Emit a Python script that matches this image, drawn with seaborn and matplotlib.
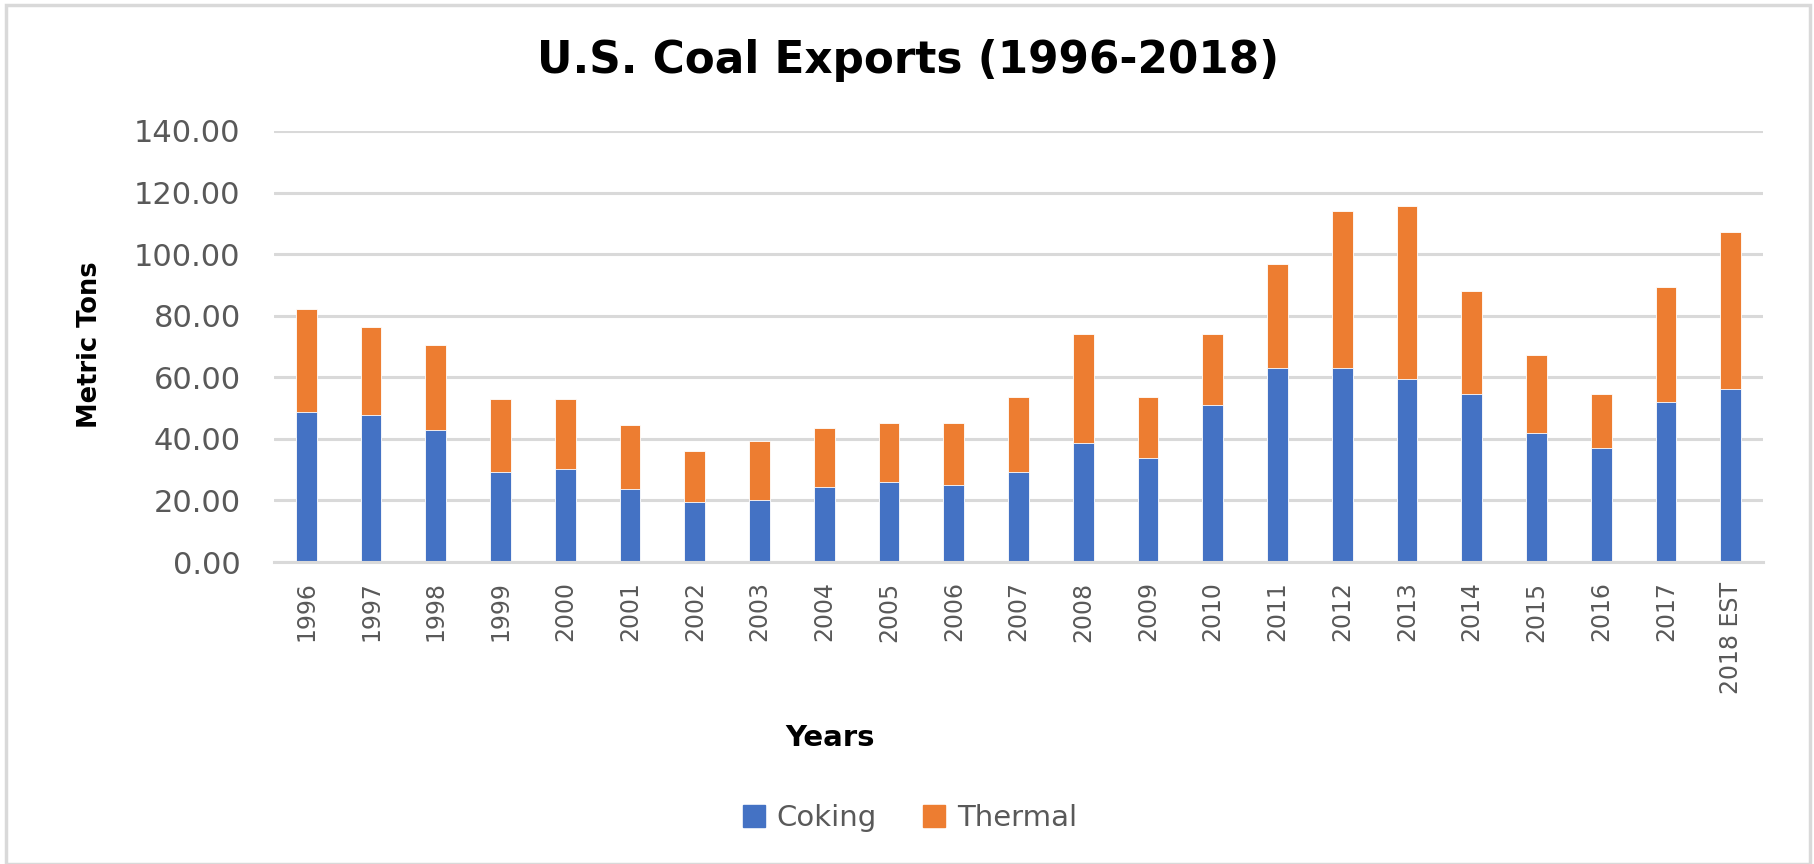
import matplotlib
matplotlib.use("Agg")
import matplotlib.pyplot as plt
from matplotlib import font_manager
from matplotlib.patches import Rectangle, Patch
from matplotlib.ticker import FormatStrFormatter
import seaborn as sns
import pandas as pd

years = ["1996", "1997", "1998", "1999", "2000", "2001", "2002", "2003", "2004",
         "2005", "2006", "2007", "2008", "2009", "2010", "2011", "2012", "2013",
         "2014", "2015", "2016", "2017", "2018 EST"]
coking = [48.7, 47.7, 42.9, 29.1, 30.2, 23.8, 19.6, 20.1, 24.4, 26.0, 24.9, 29.1,
          38.6, 33.9, 50.9, 63.1, 63.1, 59.3, 54.6, 41.9, 37.1, 52.0, 56.2]
thermal = [33.4, 28.5, 27.5, 23.7, 22.6, 20.6, 16.3, 19.1, 19.0, 19.0, 20.1, 24.4,
           35.4, 19.6, 23.1, 33.8, 50.8, 56.2, 33.3, 25.3, 17.5, 37.4, 50.9]

df = pd.DataFrame({"Year": years, "Coking": coking, "Thermal": thermal})
df["Total"] = df["Coking"] + df["Thermal"]

sns.set_theme(style="white")
plt.rcParams["font.family"] = ["DejaVu Sans"]

names = {f.name for f in font_manager.fontManager.ttflist}
narrow = "Liberation Sans Narrow" if "Liberation Sans Narrow" in names else "DejaVu Sans"
xtick_size = 24 if narrow != "DejaVu Sans" else 17

BLUE = "#4472C4"
ORANGE = "#ED7D31"
GRID = "#d9d9d9"
TXT = "#595959"

fig = plt.figure(figsize=(18.14, 8.64), dpi=100)
ax = fig.add_axes([274 / 1814, 1 - 562 / 864, (1763 - 274) / 1814, (562 - 131) / 864])

sns.barplot(data=df, x="Year", y="Total", color=ORANGE, width=0.32, ax=ax,
            saturation=1, edgecolor="white", linewidth=0.6)
sns.barplot(data=df, x="Year", y="Coking", color=BLUE, width=0.32, ax=ax,
            saturation=1, edgecolor="white", linewidth=0.6)

ax.set_ylim(0, 140)
ax.set_xlim(-0.5, len(years) - 0.5)
ax.set_yticks(range(0, 141, 20))
ax.yaxis.set_major_formatter(FormatStrFormatter("%.2f"))
ax.yaxis.grid(True, color=GRID, linewidth=2.2)
ax.set_axisbelow(True)
for s in ["top", "right", "left"]:
    ax.spines[s].set_visible(False)
ax.spines["bottom"].set_color(GRID)
ax.spines["bottom"].set_linewidth(2.2)
ax.tick_params(axis="y", length=0, pad=24, labelsize=22, labelcolor=TXT)
ax.tick_params(axis="x", length=0, pad=14, labelcolor=TXT)
for lab in ax.get_xticklabels():
    lab.set_rotation(90)
    lab.set_fontfamily(narrow)
    lab.set_fontsize(xtick_size)
    lab.set_va("top")
ax.set_xlabel("")
ax.set_ylabel("")

fig.text(908 / 1814, 1 - 60 / 864, "U.S. Coal Exports (1996-2018)", ha="center",
         va="center", fontsize=31.5, fontweight="bold", color="black")
fig.text(90 / 1814, 1 - 345 / 864, "Metric Tons", rotation=90, ha="center",
         va="center", fontsize=18.5, fontweight="bold", color="black")
fig.text(830 / 1814, 1 - 738 / 864, "Years", ha="center", va="center",
         fontsize=21, fontweight="bold", color="black")

handles = [Patch(color=BLUE, label="Coking"), Patch(color=ORANGE, label="Thermal")]
fig.legend(handles=handles, loc="center", bbox_to_anchor=(910 / 1814, 1 - 818 / 864),
           ncol=2, frameon=False, fontsize=21, labelcolor=TXT, handlelength=0.75,
           handleheight=0.75, handletextpad=0.4, columnspacing=1.6)

fig.patches.append(Rectangle((6 / 1814, 0), (1810 - 6) / 1814, 1 - 5 / 864,
                             transform=fig.transFigure, fill=False,
                             edgecolor=GRID, linewidth=2.5))

fig.savefig("out.png", dpi=100)
